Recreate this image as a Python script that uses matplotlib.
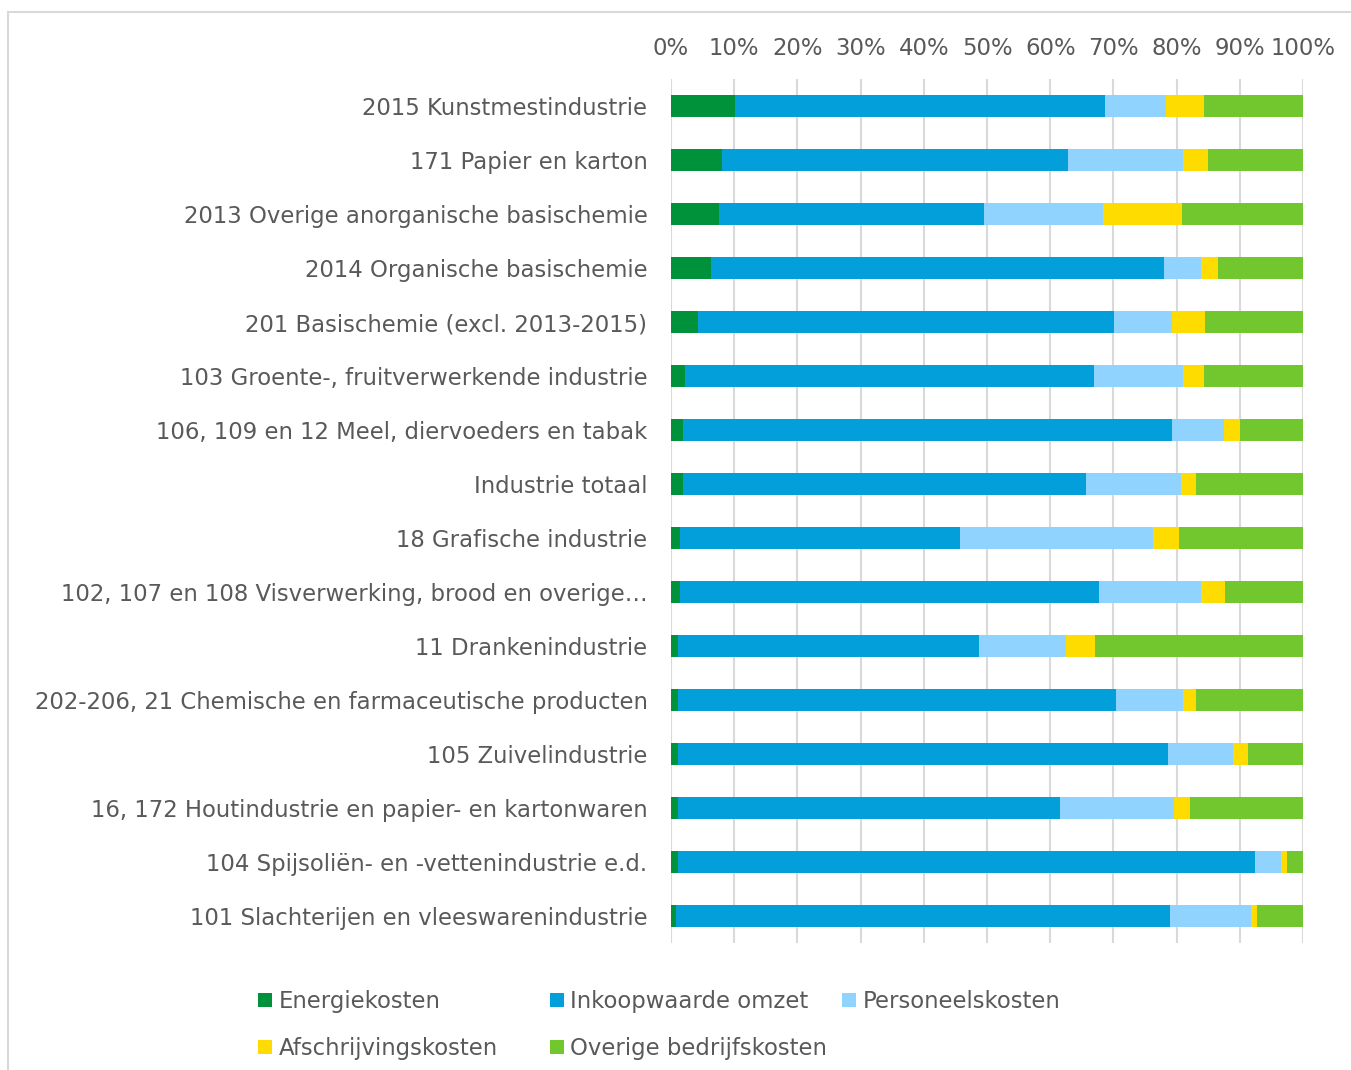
import numpy as np
import matplotlib.pyplot as plt
from matplotlib.patches import Patch, Rectangle

plt.rcParams['font.family'] = ['DejaVu Sans']

categories = [
    "2015 Kunstmestindustrie",
    "171 Papier en karton",
    "2013 Overige anorganische basischemie",
    "2014 Organische basischemie",
    "201 Basischemie (excl. 2013-2015)",
    "103 Groente-, fruitverwerkende industrie",
    "106, 109 en 12 Meel, diervoeders en tabak",
    "Industrie totaal",
    "18 Grafische industrie",
    "102, 107 en 108 Visverwerking, brood en overige\u2026",
    "11 Drankenindustrie",
    "202-206, 21 Chemische en farmaceutische producten",
    "105 Zuivelindustrie",
    "16, 172 Houtindustrie en papier- en kartonwaren",
    "104 Spijsoli\u00ebn- en -vettenindustrie e.d.",
    "101 Slachterijen en vleeswarenindustrie",
]

energie = [10.1, 8.1, 7.6, 6.4, 4.3, 2.2, 1.9, 1.9, 1.4, 1.4, 1.1, 1.1, 1.1, 1.1, 1.1, 0.8]
inkoop = [58.6, 54.7, 41.9, 71.6, 65.8, 64.7, 77.4, 63.7, 44.3, 66.3, 47.7, 69.3, 77.5, 60.4, 91.3, 78.1]
personeel = [9.6, 18.2, 18.9, 5.8, 9.2, 14.1, 8.2, 15.1, 30.5, 16.1, 13.7, 10.6, 10.3, 18.1, 4.1, 12.8]
afschrijving = [6.1, 3.9, 12.4, 2.7, 5.2, 3.4, 2.5, 2.4, 4.2, 3.8, 4.6, 2.1, 2.4, 2.5, 1.0, 1.0]
overige = [15.6, 15.1, 19.2, 13.5, 15.5, 15.6, 10.0, 16.9, 19.6, 12.4, 32.9, 16.9, 8.7, 17.9, 2.5, 7.3]

series = ["Energiekosten", "Inkoopwaarde omzet", "Personeelskosten",
          "Afschrijvingskosten", "Overige bedrijfskosten"]
colors = ['#00923A', '#039FDA', '#8FD3FE', '#FFDC00', '#72C62E']
text_color = '#595959'
grid_color = '#D9D9D9'
fs = 16.4

W, H = 1351, 1070
fig = plt.figure(figsize=(W / 100, H / 100), dpi=100)

# light frame around the chart
fig.patches.append(Rectangle((8 / W, -0.01), 1.0, 1 - 12 / H + 0.01,
                             transform=fig.transFigure, fill=False,
                             edgecolor=grid_color, linewidth=1.5))

ax = fig.add_axes([671 / W, 1 - 943 / H, 632 / W, 864 / H])

y = np.arange(len(categories))
left = np.zeros(len(categories))
for vals, name, col in zip([energie, inkoop, personeel, afschrijving, overige], series, colors):
    ax.barh(y, vals, left=left, height=0.4, color=col, label=name, zorder=3)
    left += np.array(vals)

ax.set_ylim(len(categories) - 0.5, -0.5)
ax.set_xlim(0, 100)
ax.set_yticks(y)
ax.set_yticklabels(categories)
ax.set_xticks(np.arange(0, 101, 10))
ax.set_xticklabels([f"{v}%" for v in range(0, 101, 10)])
ax.xaxis.tick_top()
ax.tick_params(axis='x', length=0, pad=13.5, labelsize=fs, colors=text_color)
ax.tick_params(axis='y', length=0, pad=17, labelsize=fs, colors=text_color)
ax.grid(axis='x', color=grid_color, linewidth=1.5, zorder=0)
for s in ax.spines.values():
    s.set_visible(False)

# legend laid out row by row, in equal columns like the original
handles = [Patch(facecolor=c, edgecolor='none') for c in colors]
columns = [([0, 3], 258), ([1, 4], 550), ([2], 842)]
for idx, xpx in columns:
    fig.legend([handles[i] for i in idx], [series[i] for i in idx],
               loc='upper left', bbox_to_anchor=(xpx / W, 1 - 990 / H),
               frameon=False, fontsize=fs, labelcolor=text_color,
               handlelength=0.6, handleheight=0.6, handletextpad=0.3,
               labelspacing=1.06, borderpad=0, borderaxespad=0)

fig.savefig("out.png", dpi=100)
